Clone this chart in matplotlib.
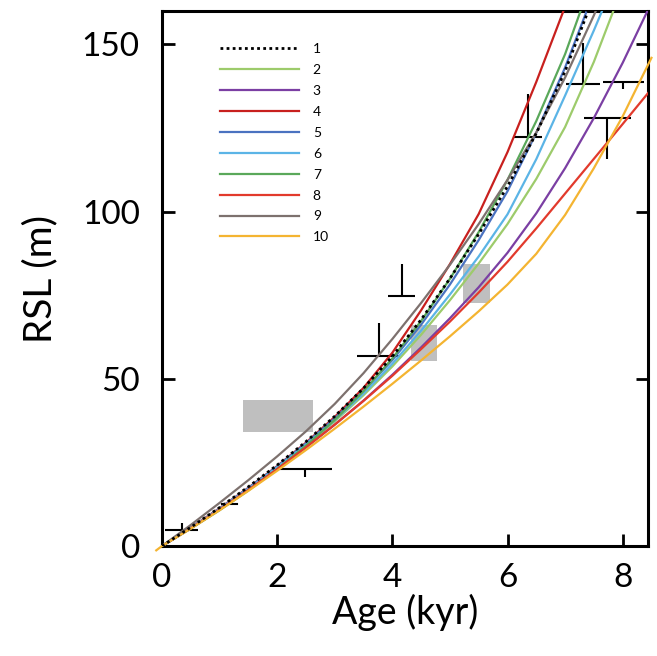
import matplotlib
matplotlib.use("Agg")
import matplotlib.pyplot as plt

plt.rcParams['font.family'] = ['Lato', 'DejaVu Sans']

# ---- data ----
ages = [0, 0.5, 1.0, 1.5, 2.0, 2.5, 3.0, 3.5, 4.0, 4.5, 5.0, 5.5, 6.0, 6.5, 7.0, 7.5, 8.0, 8.5]

rsl_1  = [0, 5.6, 11.5, 17.7, 24.2, 31.2, 38.8, 47.2, 56.7, 67.7, 80.0, 93.3, 107.6, 123.4, 142.0, 164.5, 188.5, 215]
rsl_2  = [0, 5.4, 11.1, 17.1, 23.4, 30.1, 37.3, 45.1, 53.7, 63.2, 73.5, 84.5, 96.3, 109.8, 125.3, 144.8, 167.3, 191]
rsl_3  = [0, 5.3, 10.9, 16.8, 23.0, 29.5, 36.3, 43.5, 51.2, 59.4, 68.1, 77.4, 87.7, 99.5, 113.0, 128.0, 144.5, 162.5]
rsl_4  = [0, 5.5, 11.3, 17.4, 23.9, 30.9, 38.6, 47.3, 57.8, 70.5, 84.3, 99.3, 117.8, 138.8, 161.3, 185, 210, 236]
rsl_5  = [0, 5.4, 11.2, 17.3, 23.8, 30.7, 38.2, 46.4, 55.6, 66.2, 78.2, 91.5, 106.1, 123.6, 143.1, 165.6, 190.6, 218]
rsl_6  = [0, 5.4, 11.1, 17.1, 23.5, 30.3, 37.6, 45.6, 54.5, 64.4, 75.2, 86.6, 99.2, 115.7, 134.7, 154.2, 174.7, 196]
rsl_7  = [0, 5.2, 10.7, 16.6, 23.0, 30.0, 37.7, 46.3, 56.1, 67.3, 79.9, 93.9, 109.5, 127.1, 147.1, 171.1, 197, 224]
rsl_8  = [0, 5.3, 10.9, 16.8, 23.0, 29.5, 36.3, 43.4, 50.9, 58.9, 67.1, 75.8, 85.0, 95.0, 105.4, 115.8, 126.2, 136.7]
rsl_9  = [0, 6.3, 12.9, 19.7, 26.8, 34.3, 42.5, 51.7, 61.9, 72.7, 84.1, 96.3, 109.5, 123.7, 140.1, 158.7, 179.2, 201.7]
ages_10 = [-0.1] + ages
rsl_10 = [-1.3, 0, 5.2, 10.7, 16.5, 22.5, 28.7, 35.1, 41.7, 48.5, 55.5, 62.7, 70.2, 78.2, 87.4, 99.0, 113.0, 128.5, 146.0]

labels = ['1', '2', '3', '4', '5', '6', '7', '8', '9', '10']
colors = ['black', '#9dcb6b', '#7b3fa3', '#c8201e', '#4a72c0', '#5bb4e6',
          '#5aa85a', '#e23a2c', '#7d716e', '#f4b431']

# gray boxes: age range, RSL range
box_age_lo = [1.40, 4.32, 5.23]
box_age_hi = [2.63, 4.78, 5.70]
box_rsl_lo = [34.0, 55.2, 72.8]
box_rsl_hi = [43.6, 66.0, 84.2]

# limiting markers: centre age, half-width, RSL, end of vertical bar
mk_age = [0.34, 2.48, 3.76, 4.16, 6.36, 7.31, 8.01, 7.73]
mk_half = [0.29, 0.47, 0.37, 0.23, 0.24, 0.30, 0.36, 0.41]
mk_rsl = [4.8, 23.0, 56.7, 74.9, 122.4, 138.2, 138.8, 128.1]
mk_end = [6.9, 20.6, 66.6, 84.2, 135.2, 150.4, 136.7, 115.8]

# small dash
dash_age = [1.05, 1.30]
dash_rsl = [12.6, 12.6]

# ---- plot ----
fig = plt.figure(figsize=(6.57, 6.56), dpi=100)
ax = fig.add_axes([0.2466, 0.1677, 0.7397, 0.8155])

for a0, a1, r0, r1 in zip(box_age_lo, box_age_hi, box_rsl_lo, box_rsl_hi):
    ax.fill_between([a0, a1], [r0, r0], [r1, r1], color='#bfbfbf', lw=0, zorder=1)

for a, h, r, e in zip(mk_age, mk_half, mk_rsl, mk_end):
    ax.plot([a - h, a + h], [r, r], color='black', lw=1.5, zorder=2, solid_capstyle='butt')
    ax.plot([a, a], [r, e], color='black', lw=1.5, zorder=2, solid_capstyle='butt')
ax.plot(dash_age, dash_rsl, color='black', lw=1.5, zorder=2)

series = [rsl_1, rsl_2, rsl_3, rsl_4, rsl_5, rsl_6, rsl_7, rsl_8, rsl_9, rsl_10]
for lab, col, ys in zip(labels, colors, series):
    xs = ages_10 if lab == '10' else ages
    if lab == '1':
        ax.plot(xs, ys, color=col, lw=2.0, ls=(0, (1, 1.2)), label=lab, zorder=4)
    else:
        ax.plot(xs, ys, color=col, lw=1.6, label=lab, zorder=3, clip_on=(lab != '10'))

ax.set_xlim(0, 8.44)
ax.set_ylim(0, 160)
ax.set_xticks([0, 2, 4, 6, 8])
ax.set_yticks([0, 50, 100, 150])
ax.tick_params(direction='in', length=9, width=2, labelsize=24,
               right=True, top=False)
ax.tick_params(axis='x', pad=12)
ax.tick_params(axis='y', pad=16)
for s in ax.spines.values():
    s.set_linewidth(2.2)

ax.set_xlabel('Age (kyr)', fontsize=27, labelpad=1)
ax.set_ylabel('RSL (m)', fontsize=28, labelpad=17)

leg = ax.legend(loc='upper left', bbox_to_anchor=(0.093, 0.963), frameon=False,
                fontsize=10, handlelength=5.7, handletextpad=1.0, labelspacing=0.64)

fig.savefig('out.png', dpi=100)
